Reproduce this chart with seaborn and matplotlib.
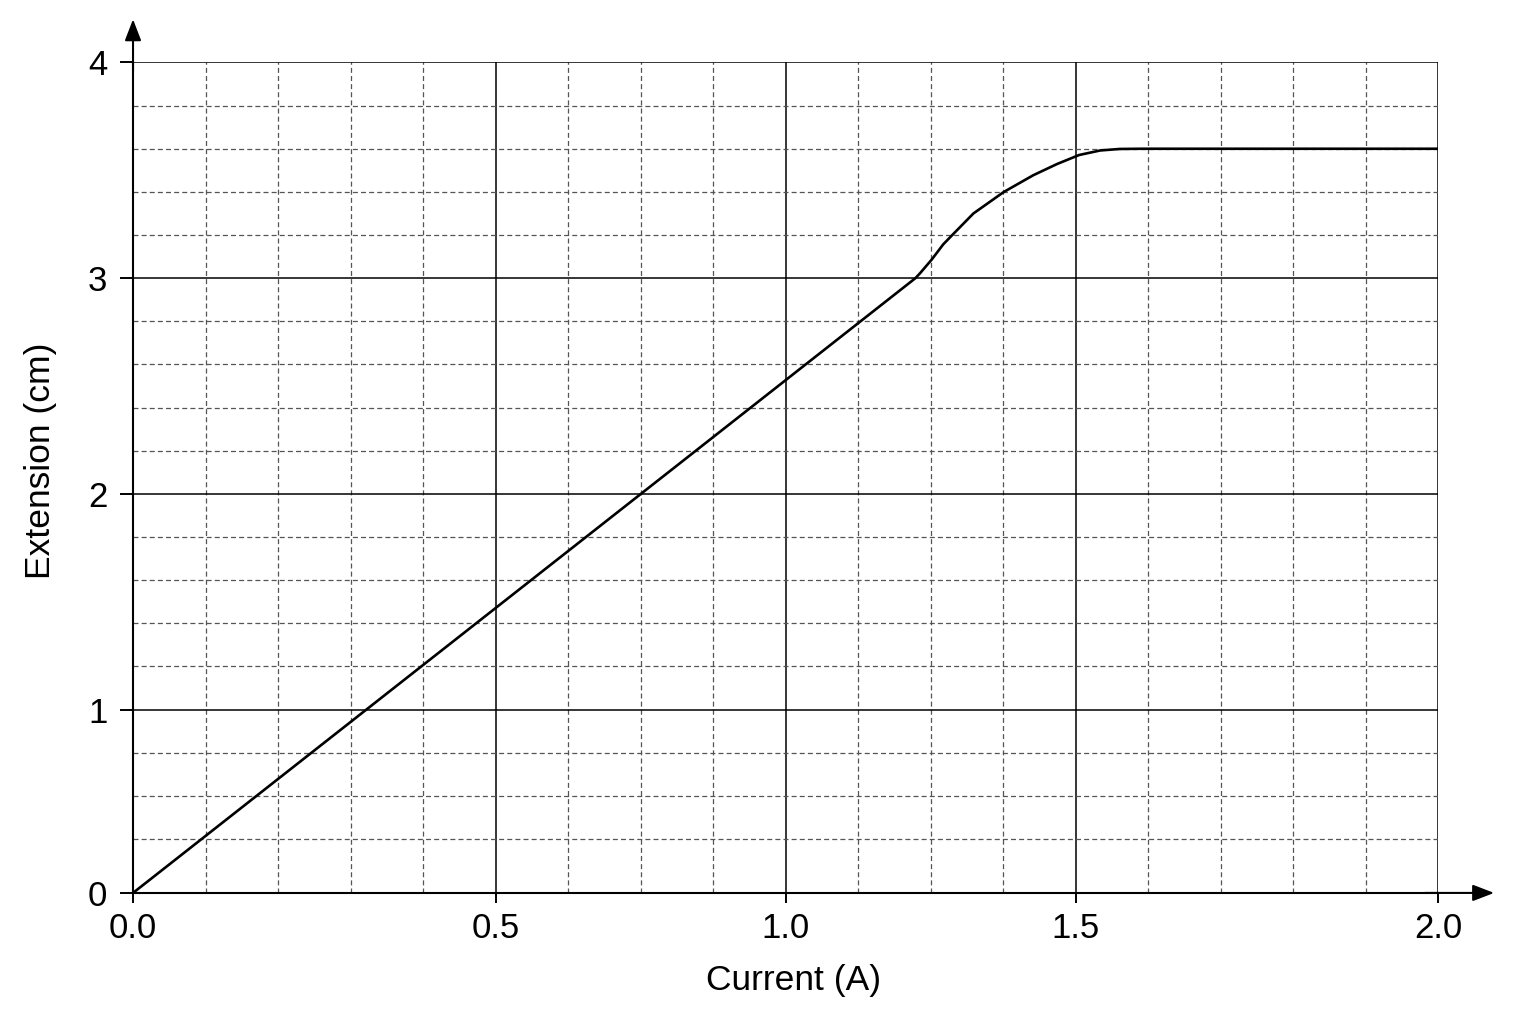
import numpy as np
import pandas as pd
import seaborn as sns
import matplotlib
matplotlib.use("Agg")
import matplotlib.pyplot as plt

# values
current = [0.0, 1.224, 1.232, 1.252, 1.272, 1.289, 1.324, 1.376, 1.427, 1.468,
           1.505, 1.534, 1.561, 1.59, 2.0]
extension = [0.0, 3.0, 3.023, 3.086, 3.157, 3.204, 3.300, 3.399, 3.477, 3.529,
             3.571, 3.592, 3.599, 3.6, 3.6]

x_ticks = [0.0, 0.5, 1.0, 1.5, 2.0]
x_labels = ["0.0", "0.5", "1.0", "1.5", "2.0"]
y_ticks = [0, 1, 2, 3, 4]
y_labels = ["0", "1", "2", "3", "4"]

# the paper grid is not evenly scaled: tick value -> grid square count
x_map_val = [-1.0, 0.0, 0.5, 1.0, 1.5, 2.0, 3.0]
x_map_pos = [-10.0, 0.0, 5.0, 9.0, 13.0, 18.0, 28.0]
y_map_val = [-1.0, 0.0, 1.0, 2.0, 3.0, 4.0, 5.0]
y_map_pos = [-4.25, 0.0, 4.25, 9.25, 14.25, 19.25, 24.25]


def x_fwd(v):
    return np.interp(v, x_map_val, x_map_pos)


def x_inv(p):
    return np.interp(p, x_map_pos, x_map_val)


def y_fwd(v):
    return np.interp(v, y_map_val, y_map_pos)


def y_inv(p):
    return np.interp(p, y_map_pos, y_map_val)


sns.set_style("white")
plt.rcParams["font.family"] = ["Liberation Sans", "DejaVu Sans"]
plt.rcParams["text.color"] = "black"
plt.rcParams["axes.labelcolor"] = "black"
plt.rcParams["xtick.color"] = "black"
plt.rcParams["ytick.color"] = "black"

fig = plt.figure(figsize=(15.36, 10.24), dpi=100)
ax = fig.add_axes([0.0866, 0.128, 0.8496, 0.811])

data = pd.DataFrame({"Current (A)": current, "Extension (cm)": extension})
sns.lineplot(data=data, x="Current (A)", y="Extension (cm)", color="black",
             linewidth=1.9, ax=ax, zorder=5, sort=False)

ax.set_xscale("function", functions=(x_fwd, x_inv))
ax.set_yscale("function", functions=(y_fwd, y_inv))
ax.set_xlim(0, 2.0)
ax.set_ylim(0, 4)

ax.set_xticks(x_ticks)
ax.set_xticklabels(x_labels)
ax.set_yticks(y_ticks)
ax.set_yticklabels(y_labels)

x_minor = [x_inv(g) for g in range(1, 18) if g not in (5, 9, 13)]
y_minor = [y_inv(g + 0.25) for g in range(1, 19) if g not in (4, 9, 14)]
ax.set_xticks(x_minor, minor=True)
ax.set_yticks(y_minor, minor=True)

ax.grid(which="major", color="black", linewidth=1.1, linestyle="-")
ax.grid(which="minor", color="#555555", linewidth=0.9, linestyle=(0, (4, 2.5)))
ax.set_axisbelow(True)

ax.tick_params(which="minor", length=0)
ax.tick_params(axis="x", which="major", length=7.5, width=1.4, color="black",
               labelsize=25, pad=6, labelcolor="black")
ax.tick_params(axis="y", which="major", length=9.5, width=1.4, color="black",
               labelsize=25, pad=9, direction="out", left=True, labelcolor="black")
ax.tick_params(axis="x", bottom=True, direction="out")

for side in ["top", "right"]:
    ax.spines[side].set_visible(False)
for side in ["left", "bottom"]:
    ax.spines[side].set_color("black")
    ax.spines[side].set_linewidth(1.5)

# axis arrows
arrow = dict(arrowstyle="-|>,head_length=1.3,head_width=0.5",
             color="black", lw=1.5, shrinkA=0, shrinkB=0, mutation_scale=10)
ax.annotate("", xy=(0, 1.052), xytext=(0, 0.99), xycoords="axes fraction",
            arrowprops=arrow, annotation_clip=False)
ax.annotate("", xy=(1.043, 0), xytext=(0.99, 0), xycoords="axes fraction",
            arrowprops=arrow, annotation_clip=False)

ax.set_xlabel("Current (A)", fontsize=25.5, color="black")
ax.set_ylabel("Extension (cm)", fontsize=25.5, color="black")
ax.xaxis.set_label_coords(0.506, -0.105)
ax.yaxis.set_label_coords(-0.071, 0.52)
ax.xaxis.label.set_va("center")
ax.yaxis.label.set_va("center")

fig.savefig("out.png", dpi=100, facecolor="white")
